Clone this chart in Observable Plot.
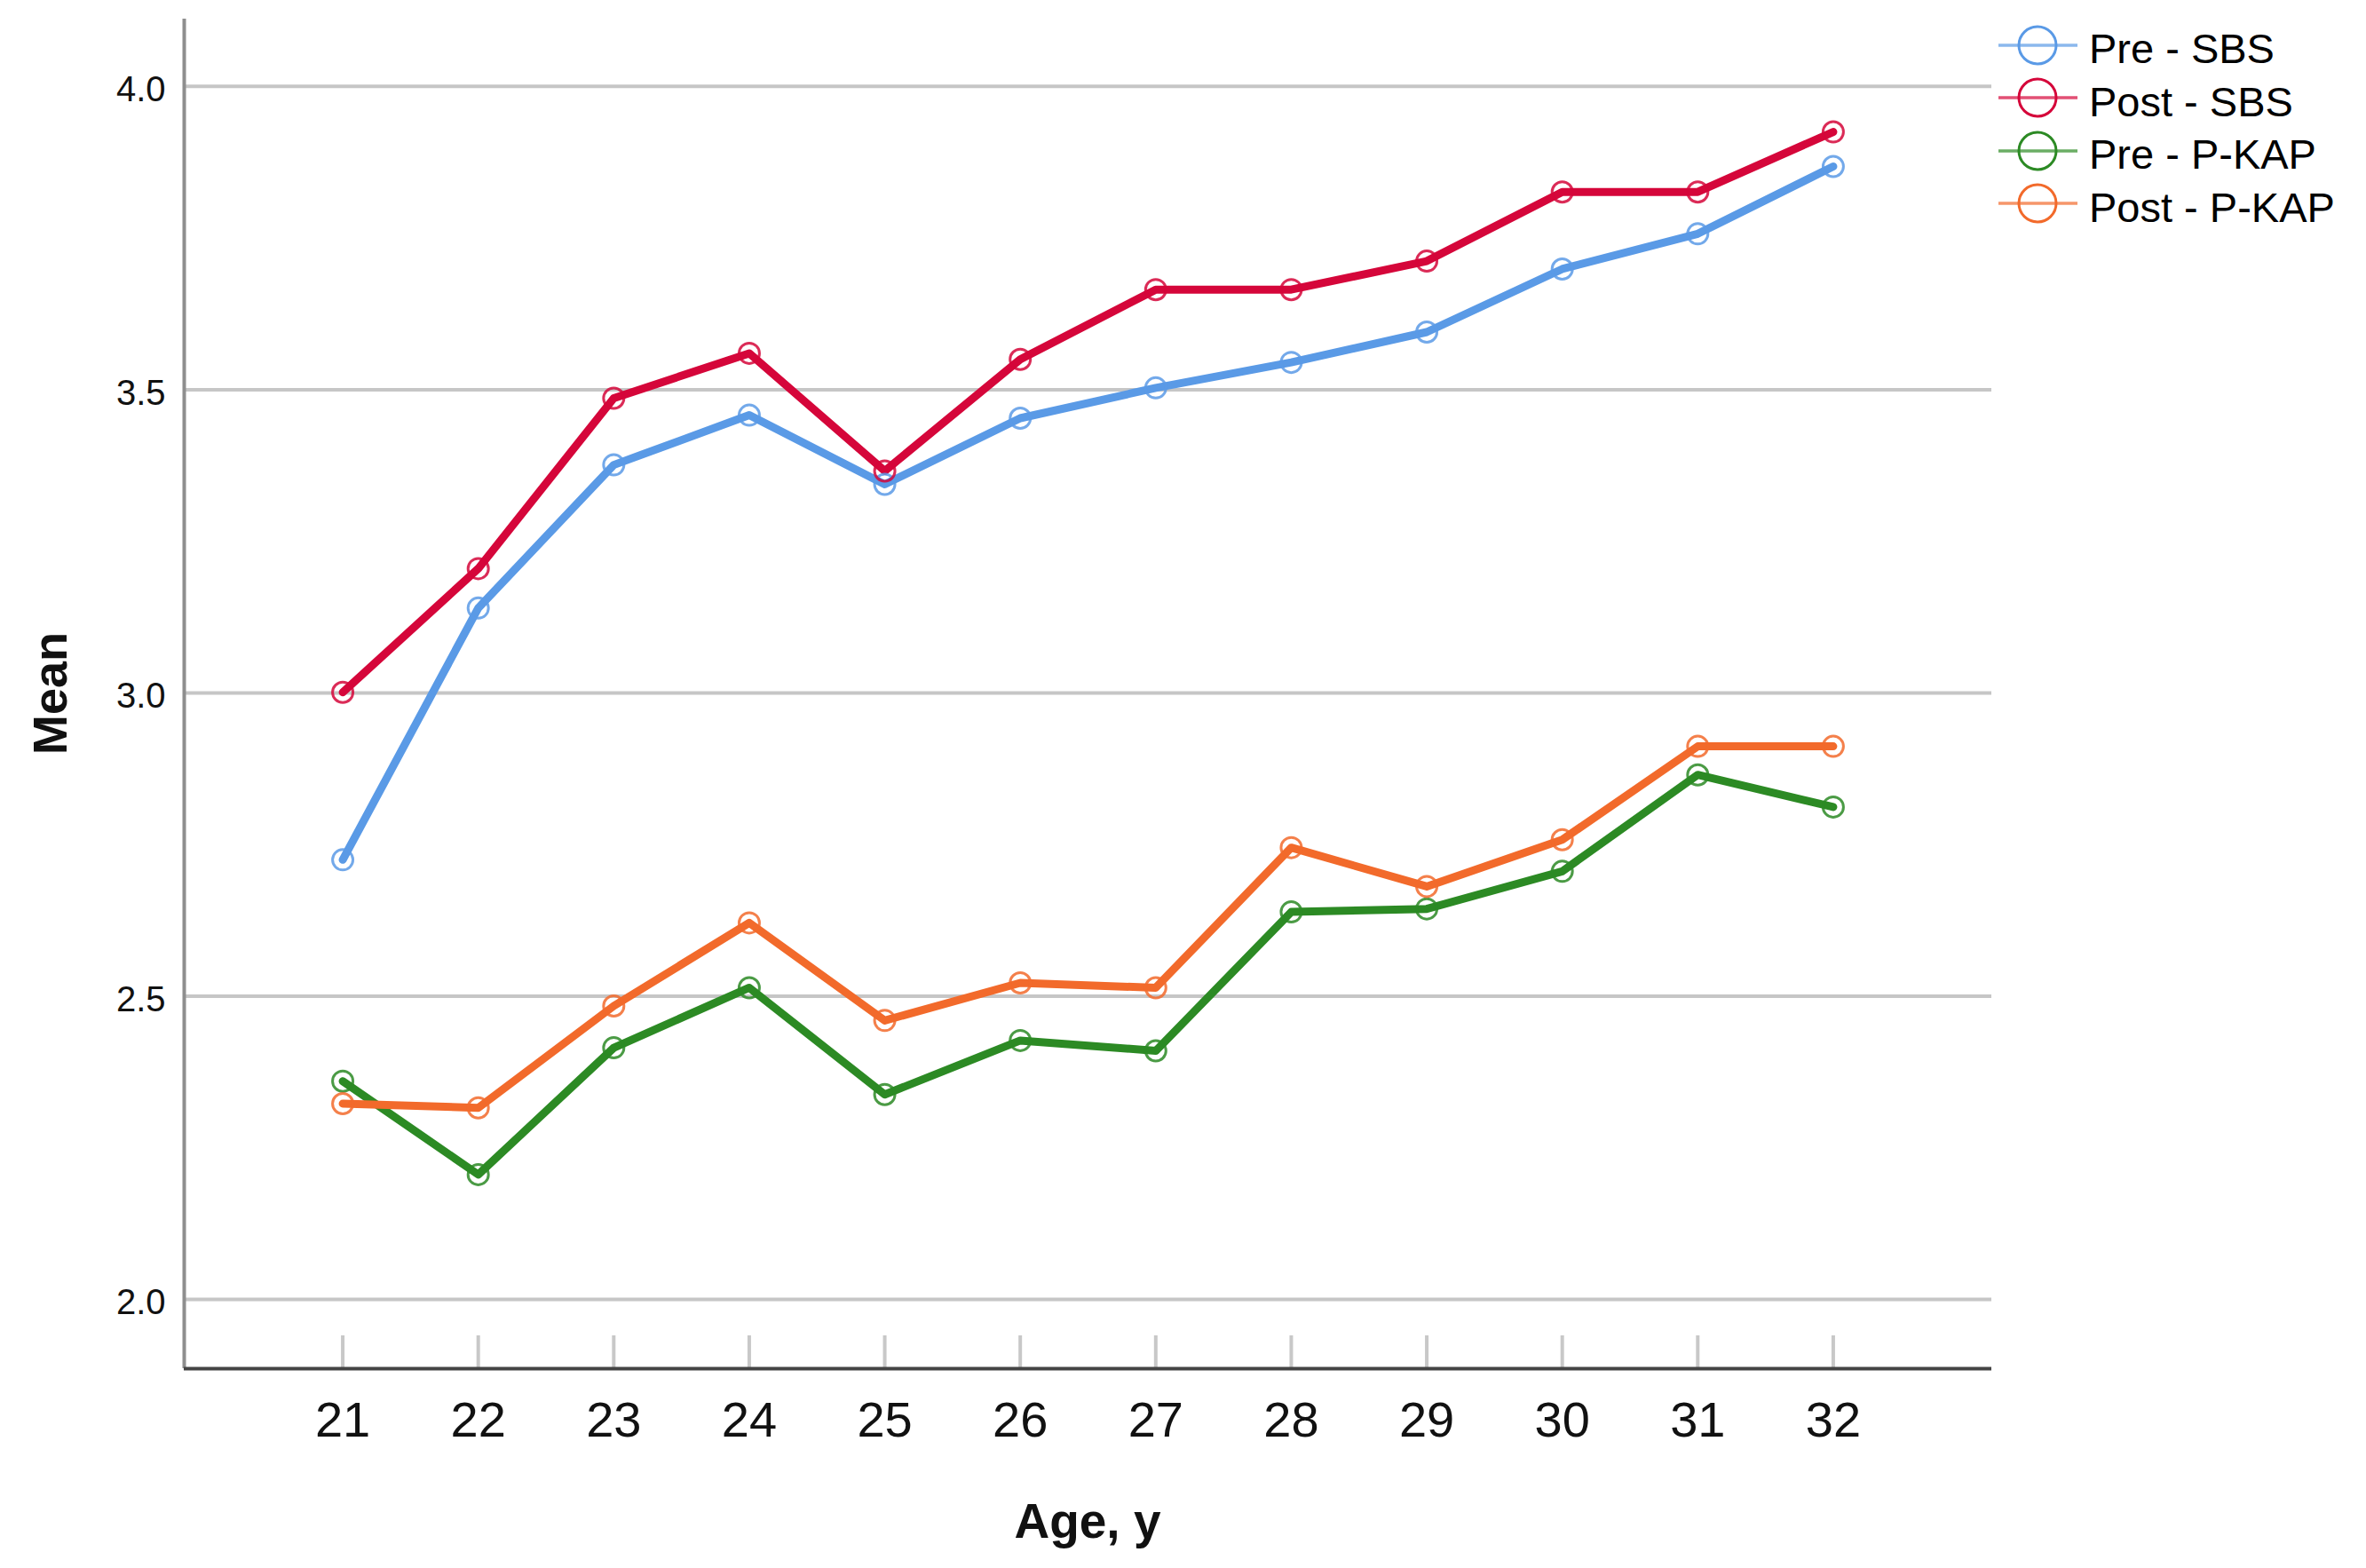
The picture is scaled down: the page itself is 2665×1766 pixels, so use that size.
<!DOCTYPE html>
<html>
<head>
<meta charset="utf-8">
<script src="https://cdn.jsdelivr.net/npm/d3@7"></script>
<script src="https://cdn.jsdelivr.net/npm/@observablehq/plot@0.6"></script>
<style>
  body { margin: 0; background: #fff; font-family: "Liberation Sans", Arial, sans-serif; }
  #wrap { position: relative; width: 2665px; height: 1766px; overflow: hidden; }
  #legend { position: absolute; left: 2251px; top: 21px; }
  .row { display: flex; align-items: center; height: 59.5px; }
  .row span { margin-left: 13px; font-size: 47px; color: #000; position: relative; top: 4px; white-space: nowrap; }
  #ytitle { position: absolute; left: 56px; top: 781px; transform: translate(-50%, -50%) rotate(-90deg); font-size: 54px; font-weight: bold; color: #111; white-space: nowrap; }
  #xtitle { position: absolute; left: 1225px; top: 1713px; transform: translate(-50%, -50%); font-size: 55px; font-weight: bold; color: #111; white-space: nowrap; }
</style>
</head>
<body>
<div id="wrap">
  <div id="chart"></div>
  <div id="legend"></div>
  <div id="ytitle">Mean</div>
  <div id="xtitle">Age, y</div>
</div>
<script>
// ---- data ----
const ages = [21, 22, 23, 24, 25, 26, 27, 28, 29, 30, 31, 32];
const preSBS   = [2.725, 3.140, 3.376, 3.458, 3.344, 3.453, 3.503, 3.545, 3.595, 3.699, 3.757, 3.868];
const postSBS  = [3.001, 3.205, 3.486, 3.560, 3.366, 3.550, 3.665, 3.665, 3.712, 3.826, 3.826, 3.925];
const prePKAP  = [2.360, 2.206, 2.415, 2.514, 2.338, 2.427, 2.410, 2.639, 2.644, 2.706, 2.865, 2.812];
const postPKAP = [2.323, 2.316, 2.484, 2.621, 2.460, 2.522, 2.514, 2.745, 2.681, 2.758, 2.912, 2.912];
const seriesNames = ["Pre - SBS", "Post - SBS", "Pre - P-KAP", "Post - P-KAP"];
const seriesColors = ["#5a9ae6", "#d5063a", "#2c8a24", "#f26a2b"];
const yTicks = [2.0, 2.5, 3.0, 3.5, 4.0];
const xDomain = [19.83, 33.17];
const yDomain = [1.886, 4.111];

const seriesValues = [preSBS, postSBS, prePKAP, postPKAP];
const data = seriesNames.flatMap((s, i) => ages.map((a, j) => ({series: s, age: a, value: seriesValues[i][j]})));

const chart = Plot.plot({
  width: 2665,
  height: 1766,
  marginLeft: 207,
  marginRight: 422,
  marginTop: 21,
  marginBottom: 225,
  style: {fontFamily: "'Liberation Sans', Arial, sans-serif", background: "white", color: "#111"},
  x: {domain: xDomain},
  y: {domain: yDomain},
  color: {domain: seriesNames, range: seriesColors},
  marks: [
    Plot.ruleY(yTicks, {stroke: "#c6c6c6", strokeWidth: 4}),
    Plot.ruleX([xDomain[0]], {stroke: "#8e8e8e", strokeWidth: 4}),
    Plot.axisX(ages, {tickSize: 37, dy: -37, tickFormat: () => "", stroke: "#c8c8c8", strokeWidth: 4, label: null}),
    Plot.ruleY([yDomain[0]], {stroke: "#444", strokeWidth: 4}),
    Plot.axisX(ages, {tickSize: 0, tickPadding: 37, fontSize: 56, tickFormat: d3.format("d"), fill: "#111", label: null}),
    Plot.axisY(yTicks, {tickSize: 0, tickPadding: 21, fontSize: 40, dy: 4, tickFormat: d3.format(".1f"), fill: "#111", label: null}),
    Plot.line(data, {x: "age", y: "value", z: "series", stroke: "series", strokeWidth: 9}),
    Plot.dot(data, {x: "age", y: "value", stroke: "series", r: 11.5, strokeWidth: 3, fill: "none", strokeOpacity: 0.85})
  ]
});
document.getElementById("chart").appendChild(chart);

// legend
const legend = document.getElementById("legend");
seriesNames.forEach((s, i) => {
  const row = document.createElement("div");
  row.className = "row";
  row.innerHTML = `<svg width="89" height="60" viewBox="0 0 89 60">
      <line x1="0" x2="89" y1="30" y2="30" stroke="${seriesColors[i]}" stroke-width="3.5" stroke-opacity="0.7"/>
      <circle cx="44" cy="30" r="21" fill="none" stroke="${seriesColors[i]}" stroke-width="3"/>
    </svg><span>${s}</span>`;
  legend.appendChild(row);
});
</script>
</body>
</html>
